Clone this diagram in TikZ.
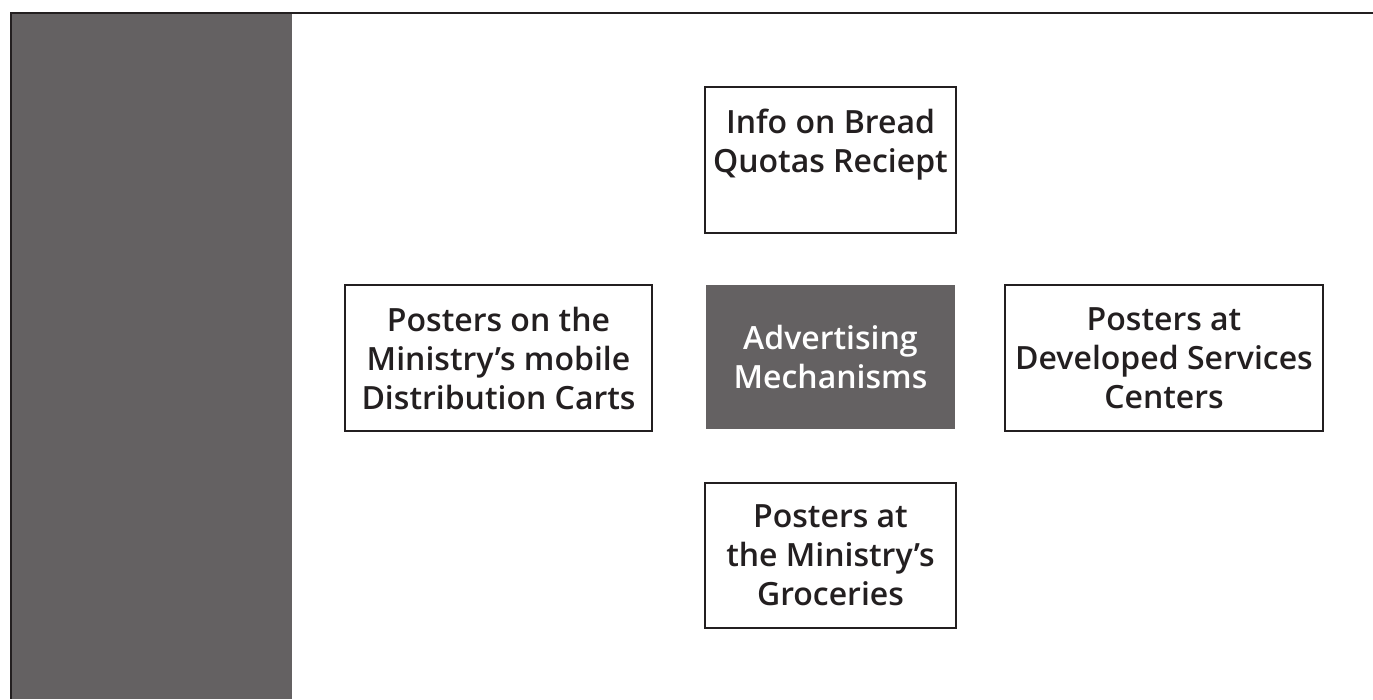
\documentclass[tikz,border=0pt]{standalone}
\usepackage{fontspec}
\IfFontExistsTF{Noto Sans SemiBold}
  {\setmainfont{Noto Sans}[BoldFont={Noto Sans SemiBold}]}
  {\IfFontExistsTF{Open Sans Semibold}
    {\setmainfont{Open Sans}[BoldFont={Open Sans Semibold}]}
    {\setmainfont{Open Sans}}}
\definecolor{bargrey}{HTML}{646162}
\definecolor{linedark}{HTML}{231F20}

\begin{document}
\begin{tikzpicture}[x=1pt, y=-1pt,
    box/.style={draw=linedark, line width=2pt, fill=white, align=center,
        font=\fontsize{32}{39}\selectfont\bfseries, text=linedark, inner sep=0pt},
    hubbox/.style={fill=bargrey, align=center,
        font=\fontsize{32}{39}\selectfont\bfseries, text=white, inner sep=0pt}]
    \useasboundingbox (0,0) rectangle (1373,699);
    \fill[bargrey] (12,14) rectangle (292,699);
    \draw[linedark, line width=2pt] (1373,13) -- (11,13) -- (11,699);

    \node[hubbox, minimum width=249, minimum height=144] (hub) at (830.5,357) {Advertising\\Mechanisms};
    \node[box, minimum width=251, minimum height=146] (info) at (830.5,160) {Info on Bread\\Quotas Reciept\\[-12pt]\strut};
    \node[box, minimum width=307, minimum height=146] (carts) at (498.5,358) {Posters on the\\Ministry’s mobile\\Distribution Carts};
    \node[box, minimum width=318, minimum height=146] (centers) at (1164,358) {Posters at\\Developed Services\\Centers};
    \node[box, minimum width=251, minimum height=145] (groceries) at (830.5,555.5) {Posters at\\the Ministry’s\\Groceries};
\end{tikzpicture}
\end{document}
